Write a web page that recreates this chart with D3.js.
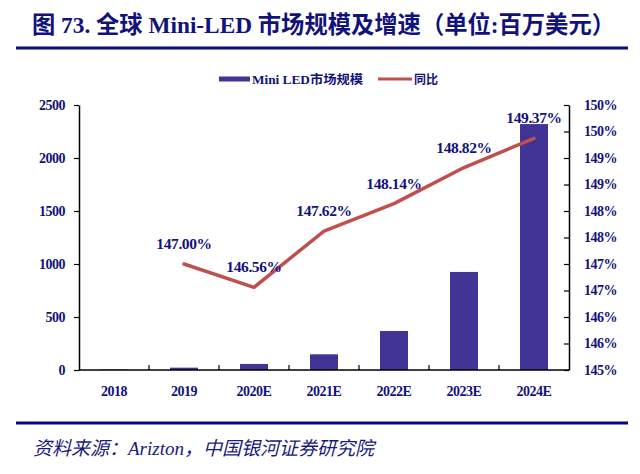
<!DOCTYPE html>
<html>
<head>
<meta charset="utf-8">
<script src="https://cdn.jsdelivr.net/npm/d3@7"></script>
<style>
  body { margin: 0; background: #fff; }
  text { font-family: "Liberation Serif", "Noto Sans CJK SC", serif; }
</style>
</head>
<body>
<div id="chart"></div>
<script>
// data
var years = ['2018', '2019', '2020E', '2021E', '2022E', '2023E', '2024E']
var market = [4, 22, 57, 148, 368, 925, 2320]          // 百万美元
var growth = [null, 147.00, 146.56, 147.62, 148.14, 148.82, 149.37]  // 同比 %
var leftTicks = [0, 500, 1000, 1500, 2000, 2500]
var rightTicks = [145, 145.5, 146, 146.5, 147, 147.5, 148, 148.5, 149, 149.5, 150]

var navy = '#12127a'
var barColor = '#403597'
var lineColor = '#c0504d'
var serif = '"Liberation Serif", "Noto Sans CJK SC", serif'

var W = 640, H = 474
var svg = d3.select('#chart').append('svg')
  .attr('width', W)
  .attr('height', H)

// title + rules
svg.append('text')
  .attr('x', 32).attr('y', 33)
  .attr('font-size', 24).attr('font-weight', 'bold')
  .attr('fill', navy)
  .attr('textLength', 583).attr('lengthAdjust', 'spacingAndGlyphs')
  .text('图 73. 全球 Mini-LED 市场规模及增速（单位:百万美元）')

svg.append('rect').attr('x', 16).attr('y', 46.5).attr('width', 612).attr('height', 3).attr('fill', '#0a0a7a')
svg.append('rect').attr('x', 16).attr('y', 421.5).attr('width', 612).attr('height', 3).attr('fill', '#0a0a7a')

svg.append('text')
  .attr('x', 33).attr('y', 455)
  .attr('font-size', 19).attr('font-style', 'italic')
  .attr('fill', '#1a1a80')
  .text('资料来源：Arizton，中国银河证券研究院')

// scales
var xb = d3.scaleBand().domain(years).range([79, 569])
var yL = d3.scaleLinear().domain([0, 2500]).range([370, 105])
var yR = d3.scaleLinear().domain([145, 150]).range([370, 105])
var cx = function(y) { return xb(y) + xb.bandwidth() / 2 }

// bars
svg.append('g').selectAll('rect')
  .data(market)
  .enter().append('rect')
  .attr('x', function(d, i) { return cx(years[i]) - 14 })
  .attr('width', 28)
  .attr('y', function(d) { return yL(d) })
  .attr('height', function(d) { return yL(0) - yL(d) })
  .attr('fill', barColor)

// axes
var left = svg.append('g').attr('transform', 'translate(79,0)')
  .call(d3.axisLeft(yL).tickValues(leftTicks).tickSize(5).tickPadding(9).tickSizeOuter(0)
    .tickFormat(d3.format('d')))
var right = svg.append('g').attr('transform', 'translate(569,0)')
  .call(d3.axisRight(yR).tickValues(rightTicks).tickSize(-5).tickPadding(15).tickSizeOuter(0)
    .tickFormat(function(d) { return Math.round(d) + '%' }))

var bottom = svg.append('g').attr('transform', 'translate(0,370)')
bottom.append('line').attr('x1', 79).attr('x2', 569).attr('stroke', '#000').attr('stroke-width', 1.5)
bottom.selectAll('.tk')
  .data(years.slice(1))
  .enter().append('line')
  .attr('x1', function(d) { return xb(d) }).attr('x2', function(d) { return xb(d) })
  .attr('y1', 0).attr('y2', -5)
  .attr('stroke', '#000').attr('stroke-width', 1.2)
bottom.selectAll('text')
  .data(years)
  .enter().append('text')
  .attr('x', cx)
  .attr('y', 26)
  .attr('text-anchor', 'middle')
  .attr('font-size', 14).attr('font-weight', 'bold')
  .attr('letter-spacing', -0.5)
  .attr('fill', navy)
  .style('font-family', serif)
  .text(function(d) { return d })

;[left, right].forEach(function(g) {
  g.attr('font-family', null)
  g.select('.domain').attr('stroke', '#000').attr('stroke-width', 1.5)
  g.selectAll('.tick line').attr('stroke', '#000').attr('stroke-width', 1.2)
  g.selectAll('.tick text')
    .attr('font-size', 14).attr('font-weight', 'bold')
    .attr('letter-spacing', -0.5)
    .attr('fill', navy)
    .style('font-family', serif)
})

// growth line
var pts = growth.map(function(v, i) { return { year: years[i], v: v } })
  .filter(function(p) { return p.v !== null })
var line = d3.line()
  .x(function(p) { return cx(p.year) })
  .y(function(p) { return yR(p.v) })
svg.append('path')
  .datum(pts)
  .attr('d', line)
  .attr('fill', 'none')
  .attr('stroke', lineColor)
  .attr('stroke-width', 3.5)
  .attr('stroke-linejoin', 'round')
  .attr('stroke-linecap', 'round')

svg.append('g').selectAll('text')
  .data(pts)
  .enter().append('text')
  .attr('x', function(p) { return cx(p.year) })
  .attr('y', function(p) { return yR(p.v) - 15 })
  .attr('text-anchor', 'middle')
  .attr('font-size', 15.5).attr('font-weight', 'bold')
  .attr('letter-spacing', -0.4)
  .attr('fill', navy)
  .style('font-family', serif)
  .text(function(p) { return p.v.toFixed(2) + '%' })

// legend
var lg = svg.append('g')
lg.append('rect').attr('x', 219).attr('y', 76.5).attr('width', 31).attr('height', 5).attr('fill', barColor)
lg.append('text').attr('x', 252).attr('y', 83.5)
  .attr('font-size', 12).attr('font-weight', 'bold').attr('fill', navy)
  .attr('textLength', 111).attr('lengthAdjust', 'spacingAndGlyphs')
  .text('Mini LED市场规模')
lg.append('rect').attr('x', 378).attr('y', 77.5).attr('width', 34).attr('height', 3).attr('fill', lineColor)
lg.append('text').attr('x', 414).attr('y', 83.5)
  .attr('font-size', 12).attr('font-weight', 'bold').attr('fill', navy)
  .text('同比')
</script>
</body>
</html>
